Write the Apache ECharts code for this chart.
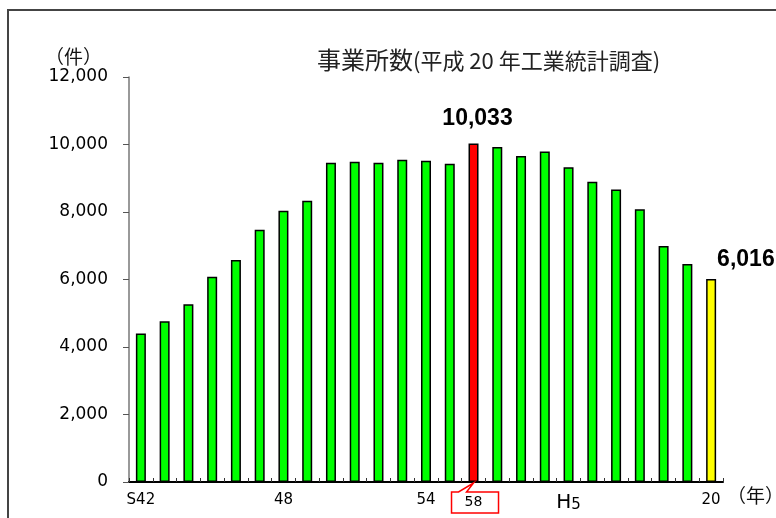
<!DOCTYPE html>
<html><head><meta charset="utf-8">
<script src="https://cdn.jsdelivr.net/npm/echarts@6/dist/echarts.min.js"></script>
<style>
html,body{margin:0;padding:0;background:#fff;overflow:hidden}
#frame{position:absolute;left:7px;top:9px;width:820px;height:600px;border-left:2px solid #444;border-top:2px solid #444;}
#c{position:absolute;left:0;top:0;width:776px;height:518px}
</style></head><body><div id="frame"></div><div id="c"></div>
<script>
// 調査年 (昭和S / 平成H)
const categories = ['S42','S43','S44','S45','S46','S47','S48','S49','S50','S51','S52','S53','S54',
  'S55','S58','S60','S63','H2','H5','H7','H10','H12','H15','H17','H20'];
// 事業所数（件）
const values = [4400,4760,5265,6080,6580,7475,8040,8335,9460,9490,9460,9550,9520,
  9430,10033,9925,9660,9790,9325,8900,8670,8080,6990,6460,6016];
// x軸に表示するラベル
const tickLabels = ['S42','','','','','','48','','','','','','54','','58','','','','H5','','','','','','20'];
const peakCategory = 'S58';
const latestCategory = 'H20';

const fmt = v => String(v).replace(/\B(?=(\d{3})+(?!\d))/g, ',');
const valueFont = 'Liberation Sans Narrow, Arial Narrow, Liberation Sans, Arial';

const data = values.map((v, i) => {
  const c = categories[i];
  const item = { value: v };
  if (c === peakCategory) {
    item.itemStyle = { color: '#ff0000' };
    item.label = { show: true, position: 'top', distance: 13, formatter: p => fmt(p.value),
      fontFamily: valueFont, fontWeight: 'bold', fontSize: 23, color: '#000', offset: [4, 0] };
  } else if (c === latestCategory) {
    item.itemStyle = { color: '#ffff00' };
    item.label = { show: true, position: ['100%', 0], offset: [1, -8], align: 'left', verticalAlign: 'bottom',
      formatter: p => fmt(p.value),
      fontFamily: valueFont, fontWeight: 'bold', fontSize: 23, color: '#000' };
  }
  return item;
});

const chart = echarts.init(document.getElementById('c'));
chart.setOption({
  animation: false,
  backgroundColor: 'transparent',
  title: {
    text: '{a|事業所数}{b|(平成 20 年工業統計調査)}',
    left: 312, top: 42,
    textStyle: { rich: {
      a: { fontFamily: 'Noto Sans CJK JP', fontSize: 24, color: '#222', fontWeight: 'normal' },
      b: { fontFamily: 'Noto Sans CJK JP', fontSize: 22, color: '#222', fontWeight: 'normal', padding: [3,0,0,0] }
    } }
  },
  grid: { left: 129, right: 53, top: 77, bottom: 36, outerBoundsMode: 'none', containLabel: false },
  xAxis: {
    type: 'category',
    data: categories,
    name: '（年）',
    nameLocation: 'end',
    nameGap: 4,
    nameTextStyle: { fontFamily: 'Noto Sans CJK JP', fontSize: 19, color: '#111', align: 'left', verticalAlign: 'top', padding: [4,0,0,0] },
    axisLine: { lineStyle: { color: '#000', width: 2 } },
    axisTick: { show: true, inside: true, length: 4, interval: 0, lineStyle: { color: '#333' } },
    axisLabel: {
      interval: 0, margin: 11,
      formatter: (v, i) => {
        const t = tickLabels[i];
        if (!t) return '';
        if (t === '58') return '{box|' + t + '}';
        if (t === 'H5') return '{h|H}{s|5}';
        return '{n|' + t + '}';
      },
      rich: {
        n: { fontFamily: 'DejaVu Sans, Arial', fontSize: 15, color: '#000' },
        box: { fontFamily: 'DejaVu Sans, Arial', fontSize: 14, color: '#000', padding: [2, 0, 0, 0] },
        h: { fontFamily: 'DejaVu Sans, Arial', fontSize: 20, color: '#000' },
        s: { fontFamily: 'DejaVu Sans, Arial', fontSize: 15, color: '#000', padding: [4,0,0,0] }
      }
    }
  },
  yAxis: {
    type: 'value',
    min: 0, max: 12000, interval: 2000,
    name: '（件）',
    nameLocation: 'end',
    nameGap: 20,
    nameTextStyle: { fontFamily: 'Noto Sans CJK JP', fontSize: 19, color: '#111', align: 'right', verticalAlign: 'middle', padding: [0, 27, 0, 0] },
    axisLine: { show: true, lineStyle: { color: '#777', width: 1.5 } },
    axisTick: { show: true, inside: false, length: 6, lineStyle: { color: '#555' } },
    splitLine: { show: false },
    axisLabel: { margin: 21, formatter: v => fmt(v), fontFamily: 'DejaVu Sans, Arial', fontSize: 17, color: '#000' }
  },
  series: [{
    type: 'bar',
    data: data,
    barWidth: 10,
    itemStyle: { color: '#00ff00', borderColor: '#000', borderWidth: 1.5 }
  }]
});

// 「58」を囲む吹き出し（ピーク年の棒の位置から計算）
const p = chart.convertToPixel({ gridIndex: 0 }, [peakCategory, 0]);
const xc = p[0], y0 = p[1];
chart.setOption({
  graphic: [{
    type: 'polygon', z: 100, silent: true,
    shape: { points: [
      [xc - 22, y0 + 10], [xc - 15, y0 + 10], [xc, y0 + 1], [xc - 7, y0 + 10],
      [xc + 25, y0 + 10], [xc + 25, y0 + 31], [xc - 22, y0 + 31]
    ] },
    style: { fill: 'none', stroke: '#ff0000', lineWidth: 1.5 }
  }]
});
</script></body></html>
